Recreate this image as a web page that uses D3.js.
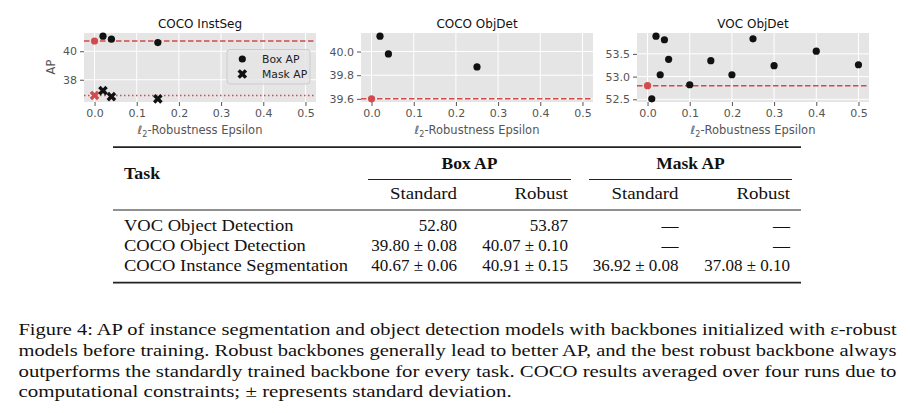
<!DOCTYPE html>
<html><head><meta charset="utf-8">
<script src="https://cdn.jsdelivr.net/npm/d3@7"></script>
<style>body{margin:0;background:#fff}</style>
</head><body><svg id="c" width="910" height="413"></svg>
<script>
// ---------- data ----------
const xTickValues = [0, 0.1, 0.2, 0.3, 0.4, 0.5];
const plotTitles = ["COCO InstSeg", "COCO ObjDet", "VOC ObjDet"];

const instEps = [0.02, 0.04, 0.15];
const instBoxAP = [41.06, 40.85, 40.61];
const instMaskAP = [37.24, 36.82, 36.66];
const instBoxStd = 40.72;
const instMaskStd = 36.90;
const instYTicks = [38, 40];

const detEps = [0.02, 0.04, 0.25];
const detAP = [40.13, 39.98, 39.87];
const detStd = 39.60;
const detYTicks = [39.6, 39.8, 40.0];

const vocEps = [0.01, 0.02, 0.03, 0.04, 0.05, 0.1, 0.15, 0.2, 0.25, 0.3, 0.4, 0.5];
const vocAP = [52.51, 53.89, 53.04, 53.81, 53.38, 52.82, 53.35, 53.04, 53.83, 53.24, 53.56, 53.26];
const vocStd = 52.80;
const vocYTicks = [52.5, 53.0, 53.5];

const legendLabels = ["Box AP", "Mask AP"];

const tableTasks = ["VOC Object Detection", "COCO Object Detection", "COCO Instance Segmentation"];
const tableGroups = ["Box AP", "Mask AP"];
const tableSubHeads = ["Standard", "Robust", "Standard", "Robust"];
const boxStandard = ["52.80", "39.80 ± 0.08", "40.67 ± 0.06"];
const boxRobust = ["53.87", "40.07 ± 0.10", "40.91 ± 0.15"];
const maskStandard = ["—", "—", "36.92 ± 0.08"];
const maskRobust = ["—", "—", "37.08 ± 0.10"];

const captionLines = [
  "Figure 4: AP of instance segmentation and object detection models with backbones initialized with ε-robust",
  "models before training. Robust backbones generally lead to better AP, and the best robust backbone always",
  "outperforms the standardly trained backbone for every task. COCO results averaged over four runs due to",
  "computational constraints; ± represents standard deviation."
];

// ---------- style ----------
const RED = "#d44a4b", BG = "#e5e5e5", TICK = "#555555";
const SANS = "DejaVu Sans", SERIF = "Liberation Serif";
const svg = d3.select("#c");

const panelLefts = [84, 361, 637];
const PW = 232, PT = 33, PH = 69;

function panel(i, series, stdLines, yTicks, yFmt) {
  const left = panelLefts[i];
  const g = svg.append("g");
  const all = [];
  series.forEach(s => s.y.forEach(v => all.push(v)));
  stdLines.forEach(s => all.push(s.v));
  const [lo, hi] = d3.extent(all);
  const pad = (hi - lo) * 0.05;
  const x = d3.scaleLinear().domain([-0.025, 0.525]).range([left, left + PW]);
  const y = d3.scaleLinear().domain([lo - pad, hi + pad]).range([PT + PH, PT]);

  g.append("rect").attr("x", left).attr("y", PT).attr("width", PW).attr("height", PH).attr("fill", BG);
  g.selectAll(".gx").data(xTickValues).join("line")
    .attr("x1", d => x(d)).attr("x2", d => x(d)).attr("y1", PT).attr("y2", PT + PH)
    .attr("stroke", "#fff").attr("stroke-width", 1);
  g.selectAll(".gy").data(yTicks).join("line")
    .attr("x1", left).attr("x2", left + PW).attr("y1", d => y(d)).attr("y2", d => y(d))
    .attr("stroke", "#fff").attr("stroke-width", 1);

  const xa = d3.axisBottom(x).tickValues(xTickValues).tickFormat(d3.format(".1f")).tickSize(4).tickPadding(3);
  const ax = g.append("g").attr("transform", `translate(0,${PT + PH})`).call(xa);
  const ya = d3.axisLeft(y).tickValues(yTicks).tickFormat(d3.format(yFmt)).tickSize(4).tickPadding(3);
  const ay = g.append("g").attr("transform", `translate(${left},0)`).call(ya);
  [ax, ay].forEach(a => {
    a.select(".domain").remove();
    a.selectAll("line").attr("stroke", TICK).attr("stroke-width", 1);
    a.selectAll("text").attr("fill", TICK).attr("font-family", SANS).attr("font-size", 11);
  });

  stdLines.forEach(s => {
    g.append("line").attr("x1", left).attr("x2", left + PW).attr("y1", y(s.v)).attr("y2", y(s.v))
      .attr("stroke", RED).attr("stroke-width", 1.5).attr("stroke-dasharray", s.dash);
  });

  const cross = d3.symbol().type(d3.symbolCross).size(58)();
  series.forEach(s => {
    const pts = s.x.map((e, k) => ({e, v: s.y[k]}));
    if (s.shape === "circle") {
      g.selectAll(null).data(pts).join("circle")
        .attr("cx", d => x(d.e)).attr("cy", d => y(d.v)).attr("r", 3.6).attr("fill", s.color);
    } else {
      g.selectAll(null).data(pts).join("path").attr("d", cross)
        .attr("transform", d => `translate(${x(d.e)},${y(d.v)}) rotate(45)`).attr("fill", s.color);
    }
  });

  g.append("text").attr("x", left + PW / 2).attr("y", 27.5).attr("text-anchor", "middle")
    .attr("font-family", SANS).attr("font-size", 12).attr("fill", "#111").text(plotTitles[i]);
  const xl = g.append("text").attr("x", left + PW / 2).attr("y", 134).attr("text-anchor", "middle")
    .attr("font-family", SANS).attr("font-size", 11.5).attr("fill", TICK);
  xl.append("tspan").attr("font-style", "italic").text("ℓ");
  xl.append("tspan").attr("font-size", 8).attr("dy", 3).text("2");
  xl.append("tspan").attr("dy", -3).text("-Robustness Epsilon");
  return {g, x, y};
}

const p1 = panel(0, [
  {x: [0], y: [instBoxStd], shape: "circle", color: RED},
  {x: instEps, y: instBoxAP, shape: "circle", color: "#111"},
  {x: [0], y: [instMaskStd], shape: "x", color: RED},
  {x: instEps, y: instMaskAP, shape: "x", color: "#111"}
], [{v: instBoxStd, dash: "5.5,2.5"}, {v: instMaskStd, dash: "1.5,2.5"}], instYTicks, "d");

svg.append("text").attr("transform", `translate(55,67) rotate(-90)`).attr("text-anchor", "middle")
  .attr("font-family", SANS).attr("font-size", 11.5).attr("fill", TICK).text("AP");

const lg = p1.g.append("g");
lg.append("rect").attr("x", 227).attr("y", 49.5).attr("width", 83).attr("height", 34.5).attr("rx", 3)
  .attr("fill", BG).attr("fill-opacity", 0.8).attr("stroke", "#cccccc").attr("stroke-width", 1);
lg.append("circle").attr("cx", 242.3).attr("cy", 59).attr("r", 3.6).attr("fill", "#111");
lg.append("path").attr("d", d3.symbol().type(d3.symbolCross).size(58)())
  .attr("transform", "translate(242.3,74) rotate(45)").attr("fill", "#111");
legendLabels.forEach((t, k) => {
  lg.append("text").attr("x", 262).attr("y", 59 + 15 * k).attr("dy", "0.36em")
    .attr("font-family", SANS).attr("font-size", 10.8).attr("fill", "#222").text(t);
});

panel(1, [
  {x: [0], y: [detStd], shape: "circle", color: RED},
  {x: detEps, y: detAP, shape: "circle", color: "#111"}
], [{v: detStd, dash: "5.5,2.5"}], detYTicks, ".1f");

panel(2, [
  {x: [0], y: [vocStd], shape: "circle", color: RED},
  {x: vocEps, y: vocAP, shape: "circle", color: "#111"}
], [{v: vocStd, dash: "5.5,2.5"}], vocYTicks, ".1f");

// ---------- table ----------
const T = svg.append("g").attr("font-family", SERIF).attr("font-size", 17).attr("fill", "#111");
const rule = (x1, x2, yy, w) => T.append("line").attr("x1", x1).attr("x2", x2).attr("y1", yy).attr("y2", yy)
  .attr("stroke", "#222").attr("stroke-width", w);
rule(113, 801, 147.2, 1.7);
rule(368, 571, 179.5, 1);
rule(589, 792, 179.5, 1);
rule(113, 801, 210, 1);
rule(113, 801, 282.6, 1.7);

function stretch(sel, f) {
  const w = sel.node().getComputedTextLength();
  sel.attr("textLength", w * f).attr("lengthAdjust", "spacingAndGlyphs");
  return sel;
}

stretch(T.append("text").attr("x", 124).attr("y", 178.5).attr("font-weight", "bold").text("Task"), 1.05);
const groupCenters = [469.5, 690.5];
tableGroups.forEach((t, k) => stretch(T.append("text").attr("x", groupCenters[k]).attr("y", 169.3)
  .attr("text-anchor", "middle").attr("font-weight", "bold").text(t), 1.03));
const colRight = [457, 568, 678.5, 790];
tableSubHeads.forEach((t, k) => stretch(T.append("text").attr("x", colRight[k]).attr("y", 199.3)
  .attr("text-anchor", "end").text(t), 1.11));
const rowY = [230.7, 251, 271.2];
const cols = [boxStandard, boxRobust, maskStandard, maskRobust];
tableTasks.forEach((t, r) => {
  stretch(T.append("text").attr("x", 124).attr("y", rowY[r]).text(t), 1.088);
  cols.forEach((c, k) => {
    T.append("text").attr("x", colRight[k]).attr("y", rowY[r])
      .attr("text-anchor", "end").text(c[r]);
  });
});

// ---------- caption ----------
const capBase = [335, 356.3, 377, 397.4];
const capEnd = [896.7, 896.5, 896.5, 511.7];
captionLines.forEach((t, k) => {
  svg.append("text").attr("x", 18.5).attr("y", capBase[k])
    .attr("font-family", SERIF).attr("font-size", 17).attr("fill", "#111")
    .attr("textLength", capEnd[k] - 18.5).attr("lengthAdjust", "spacingAndGlyphs").text(t);
});
</script></body></html>
